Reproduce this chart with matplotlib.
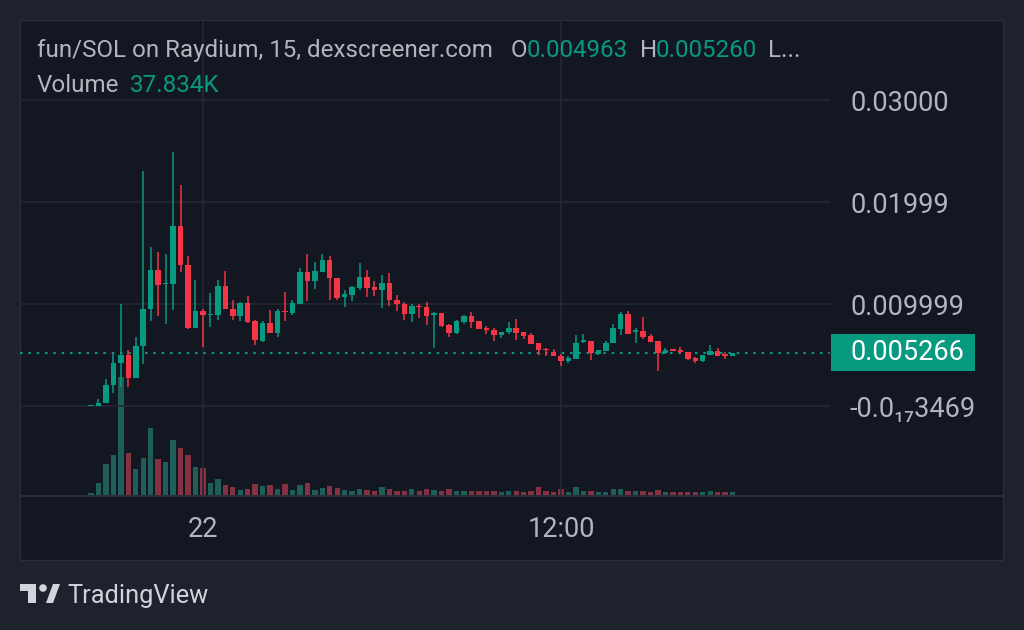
import matplotlib
matplotlib.use("Agg")
import matplotlib.dates as mdates
import matplotlib.pyplot as plt
import matplotlib.transforms as mtransforms
import pandas as pd
from matplotlib.patches import Circle, Polygon, Rectangle

plt.rcParams["font.family"] = ["Roboto", "DejaVu Sans"]

# ===== DATA (fun/SOL, 15 min candles) =====
opens = [0.00001, 0.00003, 0.00032, 0.00206, 0.00424, 0.00500, 0.00277, 0.00588, 0.00957, 0.01340,
         0.01199, 0.01202, 0.01771, 0.01382, 0.00771, 0.00931, 0.00892, 0.00895, 0.01176, 0.00957,
         0.00885, 0.01009, 0.00833, 0.00640, 0.00820, 0.00722, 0.00934, 0.00914, 0.01000, 0.01313,
         0.01225, 0.01316, 0.01431, 0.01257, 0.01071, 0.01088, 0.01159, 0.01267, 0.01169, 0.01137,
         0.01205, 0.01039, 0.01003, 0.00908, 0.00987, 0.00973, 0.00899, 0.00911, 0.00794, 0.00722,
         0.00823, 0.00882, 0.00833, 0.00771, 0.00752, 0.00699, 0.00725, 0.00767, 0.00728, 0.00696,
         0.00621, 0.00565, 0.00532, 0.00493, 0.00444, 0.00467, 0.00627, 0.00640, 0.00516, 0.00539,
         0.00621, 0.00761, 0.00902, 0.00725, 0.00735, 0.00689, 0.00637, 0.00522, 0.00559, 0.00549,
         0.00532, 0.00474, 0.00441, 0.00507, 0.00542, 0.00510, 0.004963]
highs = [0.00004, 0.00075, 0.00271, 0.00532, 0.01006, 0.00549, 0.00679, 0.02306, 0.01561, 0.01512,
         0.01496, 0.02492, 0.02166, 0.01470, 0.01241, 0.00957, 0.01114, 0.01235, 0.01323, 0.01039,
         0.01022, 0.01085, 0.00850, 0.00833, 0.00941, 0.00951, 0.01117, 0.01039, 0.01359, 0.01490,
         0.01411, 0.01496, 0.01470, 0.01257, 0.01144, 0.01176, 0.01408, 0.01333, 0.01228, 0.01284,
         0.01310, 0.01088, 0.01022, 0.01000, 0.01006, 0.01022, 0.00924, 0.00911, 0.00810, 0.00850,
         0.00899, 0.00928, 0.00833, 0.00791, 0.00771, 0.00732, 0.00826, 0.00853, 0.00728, 0.00718,
         0.00621, 0.00575, 0.00565, 0.00510, 0.00490, 0.00696, 0.00706, 0.00640, 0.00556, 0.00640,
         0.00804, 0.00921, 0.00931, 0.00771, 0.00875, 0.00706, 0.00637, 0.00575, 0.00559, 0.00581,
         0.00532, 0.00483, 0.00507, 0.00605, 0.00571, 0.00532, 0.005270]
lows = [0.00001, 0.00003, 0.00032, 0.00134, 0.00189, 0.00189, 0.00277, 0.00412, 0.00836, 0.00889,
        0.00804, 0.00941, 0.01316, 0.00761, 0.00771, 0.00581, 0.00777, 0.00843, 0.00954, 0.00850,
        0.00833, 0.00816, 0.00598, 0.00630, 0.00722, 0.00679, 0.00833, 0.00892, 0.01000, 0.01036,
        0.01150, 0.01316, 0.01046, 0.01039, 0.00973, 0.01029, 0.01137, 0.01071, 0.01078, 0.00963,
        0.00983, 0.00934, 0.00850, 0.00826, 0.00869, 0.00794, 0.00571, 0.00777, 0.00679, 0.00712,
        0.00810, 0.00767, 0.00758, 0.00712, 0.00640, 0.00669, 0.00706, 0.00647, 0.00663, 0.00614,
        0.00500, 0.00497, 0.00490, 0.00395, 0.00424, 0.00467, 0.00621, 0.00451, 0.00500, 0.00539,
        0.00621, 0.00696, 0.00709, 0.00621, 0.00660, 0.00630, 0.00346, 0.00516, 0.00542, 0.00516,
        0.00458, 0.00424, 0.00431, 0.00507, 0.00497, 0.00467, 0.004900]
closes = [0.00004, 0.00032, 0.00206, 0.00424, 0.00500, 0.00277, 0.00588, 0.00957, 0.01340, 0.01193,
          0.01212, 0.01771, 0.01382, 0.00771, 0.00931, 0.00895, 0.00902, 0.01176, 0.00954, 0.00885,
          0.01009, 0.00826, 0.00647, 0.00820, 0.00722, 0.00931, 0.00921, 0.01009, 0.01313, 0.01225,
          0.01323, 0.01431, 0.01254, 0.01065, 0.01098, 0.01169, 0.01267, 0.01159, 0.01137, 0.01205,
          0.01046, 0.01000, 0.00908, 0.00980, 0.00970, 0.00889, 0.00915, 0.00784, 0.00722, 0.00836,
          0.00882, 0.00826, 0.00758, 0.00745, 0.00699, 0.00732, 0.00767, 0.00722, 0.00689, 0.00614,
          0.00549, 0.00549, 0.00490, 0.00444, 0.00474, 0.00624, 0.00647, 0.00522, 0.00556, 0.00624,
          0.00771, 0.00902, 0.00709, 0.00745, 0.00679, 0.00630, 0.00522, 0.00549, 0.00542, 0.00529,
          0.00467, 0.00444, 0.00507, 0.00542, 0.00497, 0.00493, 0.005266]
# volume in thousands
volumes = [35, 175, 465, 595, 1775, 635, 385, 555, 1005, 545,
           495, 825, 705, 605, 425, 405, 185, 235, 155, 115,
           75, 95, 165, 135, 145, 85, 165, 75, 145, 185,
           75, 105, 135, 105, 75, 55, 85, 75, 55, 115,
           95, 55, 65, 85, 55, 85, 75, 55, 95, 65,
           60, 60, 60, 65, 65, 50, 65, 60, 50, 65,
           120, 60, 50, 90, 50, 120, 60, 60, 50, 50,
           90, 90, 65, 60, 60, 40, 70, 50, 40, 40,
           50, 50, 40, 60, 50, 40, 37.834]

times = pd.date_range("2024-01-21 20:15", periods=len(closes), freq="15min")

price_ticks = [0.03, 0.02, 0.01, 0.0]
price_labels = ["0.03000", "0.01999", "0.009999", "-0.0\u2081\u20873469"]
time_ticks = [pd.Timestamp("2024-01-22 00:00"), pd.Timestamp("2024-01-22 12:00")]
time_labels = ["22", "12:00"]

BG_OUT = "#1e222d"
BG = "#131722"
GRID = "#242833"
UP = "#089981"
DOWN = "#f23645"
UP_VOL = "#1d5f58"
DOWN_VOL = "#843241"
TXT = "#b2b5be"

W, H = 1024, 630
fig = plt.figure(figsize=(W / 100, H / 100), dpi=100, facecolor=BG_OUT)
# pixel coords (top-left origin) -> figure
px = mtransforms.Affine2D().scale(1 / W, -1 / H).translate(0, 1) + fig.transFigure

fig.patches.append(Rectangle((20, 20), 983, 540, transform=px, fc=BG, ec="#2a2e39", lw=1, zorder=-10))
fig.lines.append(plt.Line2D([20, 830], [495.5, 495.5], transform=px, color="#2a2e39", lw=1.5, zorder=-9))
fig.lines.append(plt.Line2D([832, 1003], [495.5, 495.5], transform=px, color="#2a2e39", lw=1.5, zorder=-9))

rect = [20 / W, 1 - 495 / H, 810 / W, 475 / H]
vax = fig.add_axes(rect)
ax = fig.add_axes(rect, sharex=vax)
for a in (vax, ax):
    a.set_facecolor("none")
    for s in a.spines.values():
        s.set_visible(False)

x = mdates.date2num(times)
step = 1 / 96
up = [c >= o for o, c in zip(opens, closes)]

# volume
vax.bar(x, volumes, width=step * 0.72, color=[UP_VOL if u else DOWN_VOL for u in up], zorder=1)
vax.set_ylim(0, 7127)
vax.set_yticks([])
vax.tick_params(axis="x", length=0, labelbottom=False)

# candles
cols = [UP if u else DOWN for u in up]
ax.vlines(x, lows, highs, colors=cols, lw=1.1, zorder=3)
bottoms = [min(o, c) for o, c in zip(opens, closes)]
heights = [max(abs(c - o), 0.00012) for o, c in zip(opens, closes)]
ax.bar(x, heights, bottom=bottoms, width=step * 0.74, color=cols, zorder=4)

ax.set_ylim(-0.008696, 0.03787)
ax.set_xlim(x[0] - 9.52 * step, x[0] + 99.06 * step)

ax.set_yticks(price_ticks)
ax.set_yticklabels(price_labels)
ax.yaxis.tick_right()
ax.tick_params(axis="y", length=0, pad=14.4, labelsize=19.5, labelcolor=TXT)
ax.set_xticks(mdates.date2num(time_ticks))
ax.set_xticklabels(time_labels)
ax.tick_params(axis="x", length=0, pad=15, labelsize=19.5, labelcolor=TXT)
ax.grid(True, color=GRID, lw=1.2, zorder=0)
ax.set_axisbelow(True)

# last price line + label
last = closes[-1]
ax.axhline(last, color=UP, lw=1.5, linestyle=(0, (1.2, 2.8)), zorder=2)
lbl_tr = mtransforms.blended_transform_factory(px, ax.transData)
box_h = 37 / 10200
fig.patches.append(Rectangle((831, last - box_h / 2), 144, box_h, transform=lbl_tr,
                             fc=UP, ec="none", zorder=5))
fig.text(850, last, f"{last:.6f}", transform=lbl_tr, color="white", fontsize=19.5,
         va="center", ha="left", zorder=6)

# header
hdr = 17.4
fig.text(37 / W, 1 - 57 / H, "fun/SOL on Raydium, 15, dexscreener.com", color=TXT, fontsize=hdr, va="baseline")
fig.text(511 / W, 1 - 57 / H, "O", color=TXT, fontsize=hdr, va="baseline")
fig.text(527 / W, 1 - 57 / H, f"{opens[-1]:.6f}", color=UP, fontsize=hdr, va="baseline")
fig.text(640 / W, 1 - 57 / H, "H", color=TXT, fontsize=hdr, va="baseline")
fig.text(656 / W, 1 - 57 / H, f"{highs[-1] - 0.00001:.6f}", color=UP, fontsize=hdr, va="baseline")
fig.text(768 / W, 1 - 57 / H, "L...", color=TXT, fontsize=hdr, va="baseline")
fig.text(37 / W, 1 - 92 / H, "Volume", color=TXT, fontsize=hdr, va="baseline")
fig.text(130 / W, 1 - 92 / H, f"{volumes[-1]:.3f}K", color=UP, fontsize=hdr, va="baseline")

# TradingView logo
logo = "#d1d4dc"
fig.patches.append(Rectangle((20, 584), 16, 6.5, transform=px, fc=logo, ec="none"))
fig.patches.append(Rectangle((28, 584), 8, 19, transform=px, fc=logo, ec="none"))
fig.patches.append(Circle((43, 588), 3.8, transform=px, fc=logo, ec="none"))
fig.patches.append(Polygon([(46, 603), (53, 584), (60, 584), (53, 603)], closed=True,
                           transform=px, fc=logo, ec="none"))
fig.text(67 / W, 1 - 603 / H, "TradingView", color=logo, fontsize=18.3, va="baseline")

plt.savefig("out.png", dpi=100, facecolor=BG_OUT)
plt.close()
